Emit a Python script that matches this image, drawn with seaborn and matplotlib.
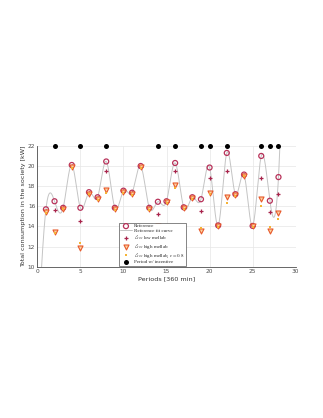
import numpy as np
import pandas as pd
import matplotlib
matplotlib.use("Agg")
import matplotlib.pyplot as plt
import seaborn as sns

# values
periods = list(range(1, 29))
reference = [15.7, 16.5, 15.85, 20.1, 15.85, 17.4, 16.9, 20.45, 15.85, 17.55,
             17.35, 20.0, 15.85, 16.45, 16.5, 20.3, 15.9, 16.9, 16.7, 19.85,
             14.1, 21.3, 17.2, 19.15, 14.05, 21.0, 16.55, 18.9]
low_mellab = [15.55, 15.6, 15.8, 20.0, 14.55, 17.35, 16.85, 19.55, 15.8, 17.5,
              17.3, 19.95, 15.8, 15.25, 16.45, 19.55, 15.85, 16.85, 15.5, 18.85,
              14.05, 19.5, 17.15, 19.1, 14.0, 18.85, 15.4, 17.25]
high_mellab = [15.45, 13.4, 15.75, 19.9, 11.85, 17.25, 16.7, 17.6, 15.7, 17.4,
               17.2, 19.9, 15.7, 14.05, 16.4, 18.1, 15.8, 16.8, 13.5, 17.35,
               14.0, 16.9, 17.1, 19.05, 14.0, 16.7, 13.5, 15.3]
high_mellab_eps = [15.3, 13.35, 15.7, 19.8, 12.4, 17.2, 16.65, 17.35, 15.65, 17.35,
                   17.15, 19.8, 15.65, 14.0, 16.35, 17.8, 15.75, 16.75, 13.8, 17.2,
                   13.95, 16.3, 17.05, 19.0, 13.95, 16.0, 13.95, 14.7]
incentive_periods = [2, 5, 8, 14, 16, 19, 20, 22, 26, 27, 28]
incentive_level = 22

# edge anchors of the fit curve (it leaves the axes at both ends)
fit_start = (0.0, 2.0)
fit_end = (28.5, 30.0)


def natural_spline(x, y, xs):
    x = np.asarray(x, float)
    y = np.asarray(y, float)
    n = len(x)
    h = np.diff(x)
    A = np.zeros((n, n))
    b = np.zeros(n)
    A[0, 0] = A[-1, -1] = 1
    for i in range(1, n - 1):
        A[i, i - 1] = h[i - 1]
        A[i, i] = 2 * (h[i - 1] + h[i])
        A[i, i + 1] = h[i]
        b[i] = 6 * ((y[i + 1] - y[i]) / h[i] - (y[i] - y[i - 1]) / h[i - 1])
    M = np.linalg.solve(A, b)
    idx = np.clip(np.searchsorted(x, xs) - 1, 0, n - 2)
    x0, x1 = x[idx], x[idx + 1]
    hh = x1 - x0
    t0, t1 = x1 - xs, xs - x0
    return (M[idx] * t0 ** 3 / (6 * hh) + M[idx + 1] * t1 ** 3 / (6 * hh)
            + (y[idx] / hh - M[idx] * hh / 6) * t0
            + (y[idx + 1] / hh - M[idx + 1] * hh / 6) * t1)


knots_x = [fit_start[0]] + periods + [fit_end[0]]
knots_y = [fit_start[1]] + reference + [fit_end[1]]
xs = np.linspace(fit_start[0], fit_end[0], 1200)
fit_df = pd.DataFrame({"x": xs, "y": natural_spline(knots_x, knots_y, xs)})

df = pd.DataFrame({"Period": periods, "Reference": reference, "Low": low_mellab,
                   "High": high_mellab, "HighEps": high_mellab_eps})
inc_df = pd.DataFrame({"Period": incentive_periods,
                       "y": [incentive_level] * len(incentive_periods)})

sns.set_theme(style="whitegrid")
plt.rcParams["font.family"] = ["Liberation Serif", "DejaVu Serif"]
plt.rcParams["mathtext.fontset"] = "stix"

fig = plt.figure(figsize=(3.23, 4.18), dpi=100)
ax = fig.add_axes([0.1155, 0.362, 0.8, 0.289])

sns.lineplot(data=fit_df, x="x", y="y", ax=ax, color="#c4c4c4", lw=0.7,
             label="Reference fit curve", zorder=2)
sns.scatterplot(data=df, x="Period", y="Reference", ax=ax, marker="o", s=13,
                facecolor="none", edgecolor="#b8325a", linewidth=0.9,
                label="Reference", zorder=3)
sns.scatterplot(data=df, x="Period", y="Low", ax=ax, marker="+", s=11,
                color="#a8244c", linewidth=0.9,
                label=r"$\ell_{soc}$ low mellab", zorder=4)
sns.scatterplot(data=df, x="Period", y="High", ax=ax, marker="v", s=13,
                facecolor="#fbd2a0", edgecolor="#e85a2c", linewidth=0.8,
                label=r"$\ell_{soc}$ high mellab", zorder=5)
sns.scatterplot(data=df, x="Period", y="HighEps", ax=ax, marker="s", s=4,
                color="#f5b335", linewidth=0,
                label=r"$\ell_{soc}$ high mellab, $\varepsilon = 0.8$", zorder=6)
sns.scatterplot(data=inc_df, x="Period", y="y", ax=ax, marker="o", s=13,
                color="black", linewidth=0, label="Period w/ incentive",
                zorder=7, clip_on=False)

ax.set_xlim(0, 30)
ax.set_ylim(10, 22)
ax.set_xticks(range(0, 31, 5))
ax.set_yticks(range(10, 23, 2))
ax.grid(True, color="#e6e6e6", lw=0.5)
ax.set_facecolor("white")
for side in ["top", "right"]:
    ax.spines[side].set_visible(False)
for side in ["left", "bottom"]:
    ax.spines[side].set_color("#4d4d4d")
    ax.spines[side].set_linewidth(0.6)
ax.tick_params(axis="both", labelsize=4.2, colors="#4d4d4d", length=1.5,
               width=0.5, pad=1.5, direction="in")
ax.set_xlabel("Periods [360 min]", fontsize=4.6, family="DejaVu Sans",
              color="#333333", labelpad=1.5)
ax.set_ylabel("Total consumption in the society [kW]", fontsize=4.6,
              family="DejaVu Sans", color="#333333", labelpad=1.5)
for lab in ax.get_xticklabels() + ax.get_yticklabels():
    lab.set_family("DejaVu Sans")

handles, labels = ax.get_legend_handles_labels()
order = ["Reference", "Reference fit curve", r"$\ell_{soc}$ low mellab",
         r"$\ell_{soc}$ high mellab",
         r"$\ell_{soc}$ high mellab, $\varepsilon = 0.8$", "Period w/ incentive"]
hmap = dict(zip(labels, handles))
leg = ax.legend([hmap[k] for k in order], order, loc="lower left",
                bbox_to_anchor=(0.315, 0.008), fontsize=3.6, frameon=True,
                fancybox=False, edgecolor="#555555", framealpha=1,
                borderpad=0.25, labelspacing=0.05, handlelength=2.4,
                handletextpad=0.4, borderaxespad=0)
leg.get_frame().set_linewidth(0.5)
leg.set_zorder(10)

fig.savefig("out.png", dpi=100)
